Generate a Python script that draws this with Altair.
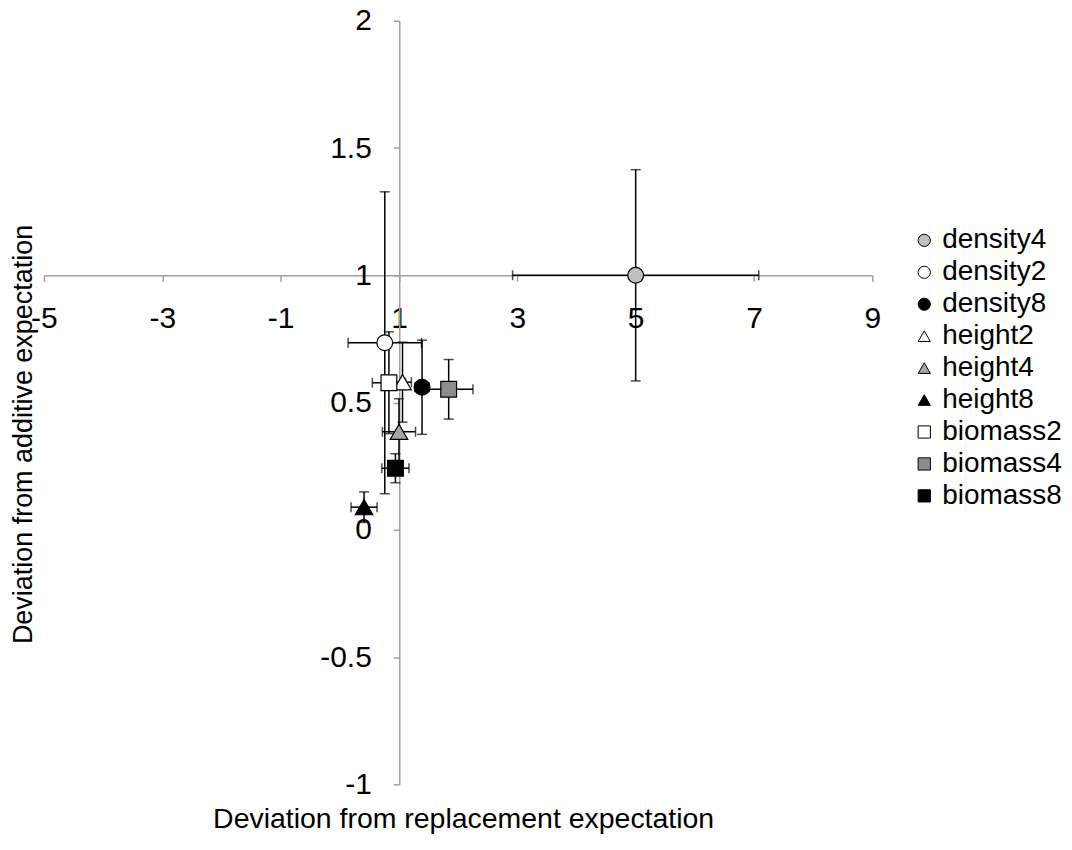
import altair as alt
import pandas as pd

series = ["density4", "density2", "density8", "height2", "height4", "height8",
          "biomass2", "biomass4", "biomass8"]
x_vals = [5.0, 0.76, 1.39, 1.06, 1.0, 0.41, 0.83, 1.84, 0.94]
y_vals = [1.0, 0.735, 0.56, 0.58, 0.385, 0.089, 0.578, 0.552, 0.242]
x_err = [2.08, 0.62, 0.12, 0.15, 0.28, 0.22, 0.28, 0.41, 0.23]
y_err = [0.415, 0.593, 0.185, 0.157, 0.13, 0.06, 0.2, 0.117, 0.057]
shapes = ["circle", "circle", "circle", "triangle-up", "triangle-up", "triangle-up",
          "square", "square", "square"]
fills = ["#bfbfbf", "#ffffff", "#000000", "#ffffff", "#a6a6a6", "#000000",
         "#ffffff", "#8c8c8c", "#000000"]
strokes = ["#000000"] * len(series)
x_ticks = [-5, -3, -1, 1, 3, 5, 7, 9]
y_ticks = [-1, -0.5, 0, 0.5, 1, 1.5, 2]

df = pd.DataFrame({"series": series, "x": x_vals, "y": y_vals,
                   "xerr": x_err, "yerr": y_err})

FONT = "Liberation Sans"
W, H = 830, 765
xscale = alt.Scale(domain=[-5, 9], nice=False, zero=False)
yscale = alt.Scale(domain=[-1, 2], nice=False, zero=False)

axis_common = dict(grid=False, domainColor="#a0a0a0", domainWidth=1.5,
                   tickColor="#a0a0a0", tickWidth=1.5, tickSize=6,
                   labelFont=FONT, labelFontSize=30, labelColor="black",
                   titleFont=FONT, titleColor="black", labelExpr="'' + datum.value",
                   titleFontWeight="normal", labelOverlap=False, labelFlush=False)

xaxis = alt.Axis(values=x_ticks, offset=-510, labelPadding=22,
                 title="Deviation from replacement expectation", titleFontSize=28.5,
                 titleX=420, titleY=544, titleBaseline="middle", **axis_common)
yaxis = alt.Axis(values=y_ticks, offset=-356, labelPadding=22,
                 title="Deviation from additive expectation", titleFontSize=27,
                 titleX=-376, titleY=414, titleBaseline="middle", **axis_common)

base = alt.Chart(df).transform_calculate(
    xlo="datum.x - datum.xerr", xhi="datum.x + datum.xerr",
    ylo="datum.y - datum.yerr", yhi="datum.y + datum.yerr")

X = lambda f: alt.X(f, type="quantitative", scale=xscale, axis=xaxis)
Y = lambda f: alt.Y(f, type="quantitative", scale=yscale, axis=yaxis)

vbar = base.mark_rule(color="black", strokeWidth=1.5).encode(
    x=X("x"), y=Y("ylo"), y2="yhi:Q")
hbar = base.mark_rule(color="black", strokeWidth=1.5).encode(
    y=Y("y"), x=X("xlo"), x2="xhi:Q")
cap_lo_y = base.mark_tick(color="black", orient="horizontal", size=10, thickness=1.5).encode(
    x=X("x"), y=Y("ylo"))
cap_hi_y = base.mark_tick(color="black", orient="horizontal", size=10, thickness=1.5).encode(
    x=X("x"), y=Y("yhi"))
cap_lo_x = base.mark_tick(color="black", orient="vertical", size=10, thickness=1.5).encode(
    x=X("xlo"), y=Y("y"))
cap_hi_x = base.mark_tick(color="black", orient="vertical", size=10, thickness=1.5).encode(
    x=X("xhi"), y=Y("y"))

legend = alt.Legend(title=None, orient="none", legendX=868, legendY=206,
                    labelFont=FONT, labelFontSize=28, labelColor="black",
                    symbolSize=150, symbolStrokeWidth=1,
                    symbolOpacity=1, labelOffset=4, rowPadding=4, padding=0)

points = base.mark_point(filled=True, strokeWidth=1.2, opacity=1).encode(
    x=X("x"), y=Y("y"),
    size=alt.condition("indexof(datum.series, 'height') >= 0", alt.value(310), alt.value(250)),
    shape=alt.Shape("series:N", scale=alt.Scale(domain=series, range=shapes),
                    sort=series, legend=legend),
    fill=alt.Fill("series:N", scale=alt.Scale(domain=series, range=fills),
                  sort=series, legend=legend),
    stroke=alt.Stroke("series:N", scale=alt.Scale(domain=series, range=strokes),
                      sort=series, legend=legend),
)

chart = alt.layer(vbar, hbar, cap_lo_y, cap_hi_y, cap_lo_x, cap_hi_x, points).properties(
    width=W, height=H,
    background="white",
    autosize=alt.AutoSizeParams(type="none"),
    padding={"left": 36, "top": 12, "right": 192, "bottom": 62},
).configure_view(stroke="transparent", strokeWidth=0)

chart.save("out.html", embed_options={"renderer": "svg", "actions": False})
